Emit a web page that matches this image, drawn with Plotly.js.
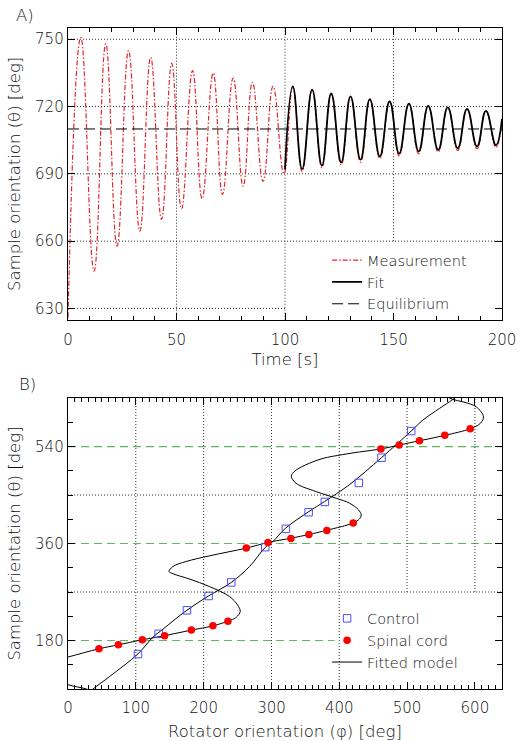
<!DOCTYPE html>
<html>
<head>
<meta charset="utf-8">
<script src="https://cdn.plot.ly/plotly-3.0.1.min.js"></script>
<style>
  html, body { margin: 0; padding: 0; background: #fff; }
  #chart { width: 521px; height: 741px; }
</style>
</head>
<body>
<div id="chart"></div>
<script>
// ---------- Panel A data (extrema of the oscillation) ----------
const measTime = [0, 5.9, 12.0, 17.4, 22.6, 27.9, 33.1, 38.1, 43.1, 47.8, 52.3, 57.4, 61.8, 66.9, 71.2, 76.1, 80.7, 85.0, 89.9, 94.5, 99.5,
                  103.6, 107.9, 112.5, 117.0, 121.3, 125.9, 130.2, 134.8, 139.1, 143.7, 148.2, 152.6, 157.1, 161.6, 166.0, 170.6, 175.0, 179.6, 183.9, 188.5, 192.6, 197.2, 200];
const measValue = [626, 750.8, 646.6, 747.9, 657.8, 744.9, 664.5, 741.9, 669.7, 739.2, 674.4, 736.0, 678.9, 734.9, 680.8, 732.7, 684.5, 730.8, 686.6, 729.0, 690.0,
                   728.8, 691.0, 727.3, 692.7, 725.6, 694.0, 724.3, 695.2, 723.1, 696.8, 722.1, 698.0, 721.1, 699.0, 720.1, 699.7, 719.4, 700.4, 718.8, 701.2, 717.9, 701.8, 713.5];
const fitTime = [100, 103.6, 107.9, 112.5, 117.0, 121.3, 125.9, 130.2, 134.8, 139.1, 143.7, 148.2, 152.6, 157.1, 161.6, 166.0, 170.6, 175.0, 179.6, 183.9, 188.5, 192.6, 197.2, 200];
const fitValue = [692, 729.0, 692.1, 727.5, 693.7, 725.8, 695.1, 724.5, 696.3, 723.3, 697.8, 722.3, 699.0, 721.3, 700.0, 720.3, 700.7, 719.6, 701.4, 719.0, 702.2, 718.1, 702.8, 714.5];
const eqTime = [0, 200];
const eqValue = [710, 710];

// ---------- Panel B data ----------
const controlPhi   = [103.2, 133.7, 175.4, 207.4, 240.8, 290.9, 321.3, 354.8, 378.8, 428.9, 462.3, 506.1];
const controlTheta = [154.8, 192.4, 236.0, 262.6, 287.8, 353.3, 387.2, 418.1, 437.2, 472.4, 519.3, 568.7];
const cordPhi   = [45.7, 74.3, 109.6, 142.5, 181.9, 213.7, 235.8, 262.9, 294.8, 328.7, 355.2, 381.7, 420.6, 461.3, 488.4, 518.3, 555.6, 593.1];
const cordTheta = [164.6, 172.0, 181.3, 189.0, 199.3, 207.2, 215.9, 351.5, 361.9, 369.3, 376.7, 384.0, 398.3, 535.4, 542.8, 550.7, 560.7, 573.0];
// fitted model curves
const modelCtrlPhi   = [20, 36.9, 61.5, 103.0, 125.3, 140.0, 174.5, 207.8, 240.8, 267.8, 289.9, 302.1, 320.9, 355.2, 378.3, 415.2, 462.3, 506.1, 523.3, 547.8, 567.4, 580];
const modelCtrlTheta = [72, 90.0, 113.3, 155.0, 186.3, 201.0, 235.5, 263.1, 287.8, 317.4, 351.5, 363.7, 388.5, 419.3, 437.8, 469.4, 519.3, 568.7, 589.0, 610.7, 627.4, 640];
const modelCordPhi   = [45, 27, 0, -25, -31, -25, 0, 45.7, 74.3, 109.6, 142.5, 181.9, 213.7, 235.8, 248, 254, 250, 238.3, 208.8, 179.4, 154.8, 149, 154.8, 174.5, 208.8, 262.9, 294.8, 329.3, 355.2, 382.3, 420.6, 430, 432.4, 428, 415.2, 395.6, 366.1, 336.2, 329.3, 335, 356, 376, 405, 430, 461.3, 488.4, 518.3, 555.6, 593.1, 608, 612.7, 602, 582, 567.4, 555];
const modelCordTheta = [80, 90, 98, 113, 128, 141, 149.3, 164.6, 172.0, 181.3, 189.0, 199.3, 207.2, 215.9, 223, 234, 246, 261.5, 280, 294, 303.9, 308, 317.4, 326.7, 337.2, 351.5, 361.9, 370.0, 376.7, 384.8, 398.3, 406, 413, 423, 434.8, 444, 456.3, 471.9, 485, 495, 509, 518, 525, 530, 535.4, 542.8, 550.7, 560.7, 573.0, 583, 595, 613.7, 623, 627.4, 635];

// ---------- styling ----------
const FONT = 'DejaVu Sans';
const txt = '#111';
const tickFont = {family: FONT, size: 15, color: txt, weight: 300};
const titleFont = {family: FONT, size: 16.5, color: txt, weight: 300};
const RED = '#e3262b';

const traces = [
  {x: measTime, y: measValue, type: 'scatter', mode: 'lines', name: 'Measurement',
   line: {color: RED, width: 1.2, dash: '5px,2px,1.5px,2px', shape: 'spline', smoothing: 1.3},
   xaxis: 'x', yaxis: 'y', legend: 'legend'},
  {x: fitTime, y: fitValue, type: 'scatter', mode: 'lines', name: 'Fit',
   line: {color: '#000', width: 1.8, shape: 'spline', smoothing: 1.3},
   xaxis: 'x', yaxis: 'y', legend: 'legend'},
  {x: eqTime, y: eqValue, type: 'scatter', mode: 'lines', name: 'Equilibrium',
   line: {color: '#000', width: 1, dash: '11px,5px'},
   xaxis: 'x', yaxis: 'y', legend: 'legend'},

  {x: modelCordPhi, y: modelCordTheta, type: 'scatter', mode: 'lines', name: 'Fitted model', showlegend: false,
   line: {color: '#000', width: 1, shape: 'spline', smoothing: 1},
   xaxis: 'x2', yaxis: 'y2', legend: 'legend2'},
  {x: modelCtrlPhi, y: modelCtrlTheta, type: 'scatter', mode: 'lines', name: 'Fitted model', legendrank: 3,
   line: {color: '#000', width: 1, shape: 'spline', smoothing: 1},
   xaxis: 'x2', yaxis: 'y2', legend: 'legend2'},
  {x: controlPhi, y: controlTheta, type: 'scatter', mode: 'markers', name: 'Control', legendrank: 1,
   marker: {symbol: 'square-open', size: 7.5, color: '#4d4dff', line: {width: 1, color: '#4d4dff'}},
   xaxis: 'x2', yaxis: 'y2', legend: 'legend2'},
  {x: cordPhi, y: cordTheta, type: 'scatter', mode: 'markers', name: 'Spinal cord', legendrank: 2,
   marker: {symbol: 'circle', size: 7.5, color: '#ff0000', line: {width: 0}},
   xaxis: 'x2', yaxis: 'y2', legend: 'legend2'}
];

function axisBase(extra) {
  return Object.assign({
    showline: true, linecolor: '#000', linewidth: 1.3, mirror: 'ticks',
    ticks: 'inside', ticklen: 7, tickwidth: 1, tickcolor: '#000',
    showgrid: false, zeroline: false, tickfont: tickFont, automargin: false
  }, extra);
}
const minorX = {dtick: 10, tick0: 0, ticks: 'inside', ticklen: 4, tickwidth: 1, tickcolor: '#000', showgrid: false};

const dotted = {color: '#333', width: 1, dash: '1px,2px'};
const green = {color: '#62b562', width: 1.2, dash: '8px,5px'};
const shapes = [];
function hline(xref, yref, y, x0, x1, line, domain) {
  shapes.push({type: 'line', xref: domain ? xref + ' domain' : xref, yref: yref, x0: x0, x1: x1, y0: y, y1: y, line: line, layer: 'below'});
}
function vline(xref, yref, x, y0, y1, line, domain) {
  shapes.push({type: 'line', xref: xref, yref: domain ? yref + ' domain' : yref, x0: x, x1: x, y0: y0, y1: y1, line: line, layer: 'below'});
}
// Panel A grid (the legend box blanks part of it)
[660, 690, 720, 750].forEach(v => hline('x', 'y', v, 0, 1, dotted, true));
hline('x', 'y', 630, 0, 100, dotted, false);
[50, 100].forEach(v => vline('x', 'y', v, 0, 1, dotted, true));
vline('x', 'y', 150, 660, 755, dotted, false);
// Panel B grid
[100, 200, 300, 400].forEach(v => vline('x2', 'y2', v, 0, 1, dotted, true));
[500, 600].forEach(v => vline('x2', 'y2', v, 270, 630, dotted, false));
[270, 450].forEach(v => hline('x2', 'y2', v, 0, 1, dotted, true));
[360, 540].forEach(v => hline('x2', 'y2', v, 0, 1, green, true));
hline('x2', 'y2', 180, 0, 393, green, false);

const legendFont = {family: FONT, size: 14.5, color: txt, weight: 300};
const layout = {
  width: 521, height: 741,
  margin: {l: 68, r: 19, t: 28, b: 52},
  paper_bgcolor: '#fff', plot_bgcolor: '#fff',
  font: {family: FONT, color: txt, size: 15, weight: 300},
  showlegend: true,
  xaxis: axisBase({domain: [0, 1], anchor: 'y', range: [0, 200], tickmode: 'linear', tick0: 0, dtick: 50,
    ticklabelstandoff: 6, minor: minorX,
    title: {text: 'Time [s]', font: titleFont, standoff: 5}}),
  yaxis: axisBase({domain: [0.5587, 1], anchor: 'x', range: [625, 755], tickmode: 'linear', tick0: 630, dtick: 30,
    title: {text: 'Sample orientation (θ) [deg]', font: titleFont, standoff: 10}}),
  xaxis2: axisBase({domain: [0, 1], anchor: 'y2', range: [0, 640], tickmode: 'linear', tick0: 0, dtick: 100,
    ticklabelstandoff: 5, minor: minorX,
    title: {text: 'Rotator orientation (φ) [deg]', font: titleFont, standoff: 10}}),
  yaxis2: axisBase({domain: [0, 0.4402], anchor: 'x2', range: [90, 630], tickmode: 'linear', tick0: 0, dtick: 180,
    minor: {dtick: 45, tick0: 0, ticks: 'inside', ticklen: 5, tickwidth: 1, tickcolor: '#000', showgrid: false},
    title: {text: 'Sample orientation (θ) [deg]', font: titleFont, standoff: 10}}),
  legend: {x: 0.597, y: 0.673, xanchor: 'left', yanchor: 'top', bgcolor: 'rgba(0,0,0,0)', borderwidth: 0,
    font: legendFont, tracegroupgap: 0},
  legend2: {x: 0.597, y: 0.131, xanchor: 'left', yanchor: 'top', bgcolor: 'rgba(0,0,0,0)', borderwidth: 0,
    font: legendFont, tracegroupgap: 0},
  shapes: shapes,
  annotations: [
    {text: 'A)', xref: 'paper', yref: 'paper', x: -0.098, y: 1.019, xanchor: 'center', yanchor: 'middle', showarrow: false, font: titleFont},
    {text: 'B)', xref: 'paper', yref: 'paper', x: -0.093, y: 0.4614, xanchor: 'center', yanchor: 'middle', showarrow: false, font: titleFont}
  ]
};

Plotly.newPlot('chart', traces, layout, {displayModeBar: false, staticPlot: true});
</script>
</body>
</html>
